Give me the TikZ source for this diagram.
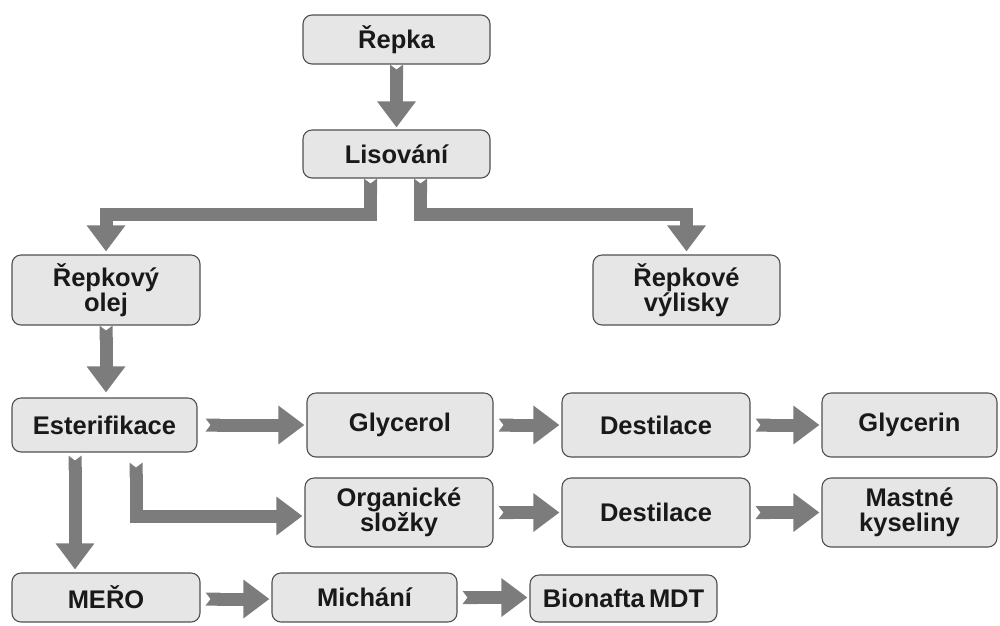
\documentclass[tikz,border=0pt]{standalone}
\usepackage{fontspec}
\setmainfont{Liberation Sans}
\usetikzlibrary{arrows.meta}
\definecolor{boxfill}{HTML}{E6E6E6}
\definecolor{boxline}{HTML}{505050}
\definecolor{arrcol}{HTML}{7C7C7C}
\tikzset{
  box/.style={draw=boxline, fill=boxfill, rounded corners=9pt, line width=1.1pt,
    font=\fontsize{25.5}{22}\selectfont\bfseries, align=center, inner sep=0pt,
    minimum width=#1, text=black!90},
  box/.default=187pt,
  arr/.style={draw=arrcol, line width=13pt, line join=miter,
    arrows={Triangle Cap[reversed,length=5pt]-Triangle[width=37pt,length=26pt]}},
}
\begin{document}
\begin{tikzpicture}[x=1pt,y=-1pt]
\useasboundingbox (0,0) rectangle (1000,625);
% nodes
\node[box, minimum height=49pt] (repka) at (396.5,39.5) {Řepka};
\node[box, minimum height=48pt] (lis) at (396.5,154) {Lisování};
\node[box=188pt, minimum height=70pt] (olej) at (106,290) {Řepkový\\olej};
\node[box, minimum height=70pt] (vyl) at (686.5,290) {Řepkové\\výlisky};
\node[box=185pt, minimum height=54pt] (est) at (104.5,425) {Esterifikace};
\node[box=186pt, minimum height=64pt] (gly) at (400,425) {Glycerol};
\node[box=188pt, minimum height=64pt] (des1) at (656,425) {Destilace};
\node[box=175pt, minimum height=64pt] (glyc) at (909.5,425) {Glycerin};
\node[box=188pt, minimum height=69pt] (org) at (399,512.5) {Organické\\složky};
\node[box=188pt, minimum height=69pt] (des2) at (656,512.5) {Destilace};
\node[box=175pt, minimum height=69pt, font=\fontsize{25.5}{25}\selectfont\bfseries] (mast) at (909.5,512.5) {Mastné\\kyseliny};
\node[box=188pt, minimum height=49pt] (mero) at (106,597.5) {MEŘO};
\node[box=185pt, minimum height=49pt] (mich) at (364.5,597.5) {Michání};
\node[box=187pt, minimum height=47pt] (bio) at (623.5,598.5) {Bionafta\,MDT};
% arrows
\draw[arr] (repka.south) -- ([yshift=2pt]lis.north);
\draw[arr] ([xshift=-26pt]lis.south) -- ++(0,36) -| ([yshift=3pt]olej.north);
\draw[arr] ([xshift=24pt]lis.south) -- ++(0,36) -| ([yshift=3pt]vyl.north);
\draw[arr] (olej.south) -- ([yshift=5pt]olej.south |- est.north);
\draw[arr] ([xshift=8pt]est.east) -- ([xshift=-2pt]gly.west);
\draw[arr] ([xshift=5pt]gly.east) -- ([xshift=-2pt]des1.west);
\draw[arr] ([xshift=5pt]des1.east) -- ([xshift=-2pt]glyc.west);
\draw[arr] ([xshift=-29.5pt,yshift=-3pt]est.south) -- ([xshift=-29.5pt,yshift=3pt]est.south |- mero.north);
\draw[arr] ([xshift=31.5pt,yshift=-10pt]est.south) |- ([xshift=-2pt,yshift=-3.5pt]org.west);
\draw[arr] ([xshift=5pt]org.east) -- ([xshift=-2pt]des2.west);
\draw[arr] ([xshift=5pt]des2.east) -- ([xshift=-2pt]mast.west);
\draw[arr] ([xshift=5pt,yshift=-1.5pt]mero.east) -- ([xshift=-2pt,yshift=-1.5pt]mich.west);
\draw[arr] ([xshift=5pt]mich.east) -- ([xshift=-2pt]mich.east -| bio.west);
\end{tikzpicture}
\end{document}
